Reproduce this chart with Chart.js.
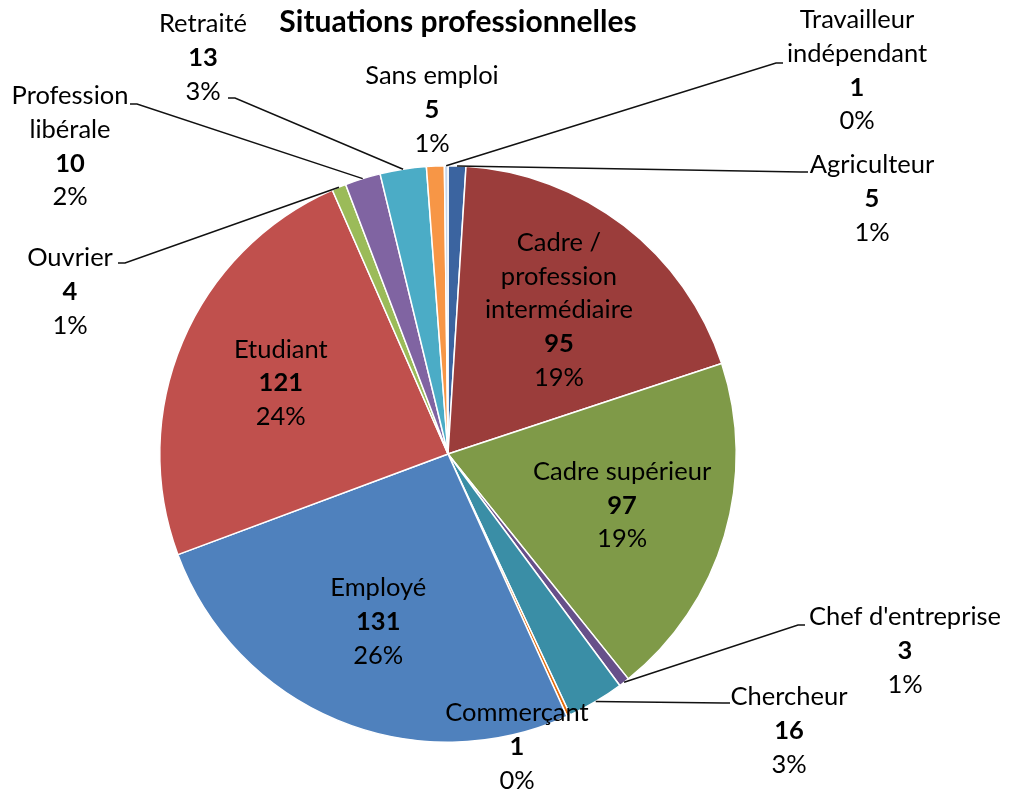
<!DOCTYPE html>
<html>
<head>
<meta charset="utf-8">
<script src="https://cdn.jsdelivr.net/npm/chart.js@4"></script>
<style>
  html, body { margin: 0; padding: 0; background: #fff; }
</style>
</head>
<body>
<canvas id="chart" width="1009" height="792"></canvas>
<script>
const chartTitle = "Situations professionnelles";
const categories = [
  "Agriculteur", "Cadre / profession intermédiaire", "Cadre supérieur", "Chef d'entreprise",
  "Chercheur", "Commerçant", "Employé", "Etudiant", "Ouvrier", "Profession libérale",
  "Retraité", "Sans emploi", "Travailleur indépendant"
];
const counts = [5, 95, 97, 3, 16, 1, 131, 121, 4, 10, 13, 5, 1];
const sliceColors = [
  "#3b64a0", "#9b3d3b", "#7f9a48", "#67508a", "#3a8ea6", "#e46c0a",
  "#4f81bd", "#c0504d", "#9bbb59", "#8064a2", "#4bacc6", "#f79646", "#c6d6ec"
];

// how each category name is broken into lines on the chart
const labelLines = [
  ["Agriculteur"], ["Cadre /", "profession", "intermédiaire"], ["Cadre supérieur"], ["Chef d'entreprise"],
  ["Chercheur"], ["Commerçant"], ["Employé"], ["Etudiant"], ["Ouvrier"], ["Profession", "libérale"],
  ["Retraité"], ["Sans emploi"], ["Travailleur", "indépendant"]
];

// label placement: inside the slice, or outside at a fixed spot with an optional leader line
const labelLayout = [
  { x: 872, y: 165, lead: [808, 172] },
  { inside: true },
  { inside: true },
  { x: 905, y: 617, lead: [805, 625] },
  { x: 789, y: 697, lead: [730, 703] },
  { x: 517, y: 713 },
  { inside: true },
  { inside: true },
  { x: 70, y: 258, lead: [118, 263] },
  { x: 70, y: 96, lead: [130, 104] },
  { x: 203, y: 24, lead: [228, 98] },
  { x: 432, y: 76 },
  { x: 857, y: 20, lead: [783, 63] }
];

const total = counts.reduce((a, b) => a + b, 0);
const FONT = "Lato, 'Open Sans', sans-serif";
const lineH = 33.7;

const labelPlugin = {
  id: "sliceLabels",
  afterDraw(chart) {
    const ctx = chart.ctx;
    const arcs = chart.getDatasetMeta(0).data;
    ctx.save();
    ctx.fillStyle = "#000";
    ctx.textAlign = "center";
    ctx.textBaseline = "middle";
    ctx.font = "bold 30px " + FONT;
    ctx.fillText(chartTitle, 458, 22);

    arcs.forEach((arc, i) => {
      const p = arc.getProps(["x", "y", "startAngle", "endAngle", "outerRadius"], true);
      const mid = (p.startAngle + p.endAngle) / 2;
      const lines = labelLines[i].concat([String(counts[i]), Math.round(counts[i] / total * 100) + "%"]);
      const lay = labelLayout[i];
      let cx, top;
      if (lay.inside) {
        cx = p.x + Math.cos(mid) * p.outerRadius * 0.63;
        const cy = p.y + Math.sin(mid) * p.outerRadius * 0.63;
        top = cy - (lines.length - 1) * lineH / 2;
      } else {
        cx = lay.x;
        top = lay.y;
        if (lay.lead) {
          const sx = p.x + Math.cos(mid) * p.outerRadius;
          const sy = p.y + Math.sin(mid) * p.outerRadius;
          const dir = lay.lead[0] > p.x ? -1 : 1;
          ctx.strokeStyle = "#111";
          ctx.lineWidth = 1.5;
          ctx.beginPath();
          ctx.moveTo(sx, sy);
          ctx.lineTo(lay.lead[0] + dir * 7, lay.lead[1]);
          ctx.lineTo(lay.lead[0], lay.lead[1]);
          ctx.stroke();
        }
      }
      lines.forEach((t, k) => {
        ctx.font = (k === lines.length - 2 ? "bold " : "") + "25.5px " + FONT;
        ctx.fillText(t, cx, top + k * lineH);
      });
    });
    ctx.restore();
  }
};

new Chart(document.getElementById("chart"), {
  type: "pie",
  data: {
    labels: categories,
    datasets: [{
      data: counts,
      backgroundColor: sliceColors,
      borderColor: "#ffffff",
      borderWidth: 1.5
    }]
  },
  options: {
    responsive: false,
    animation: false,
    layout: { padding: { left: 159, right: 272, top: 165, bottom: 49 } },
    plugins: {
      legend: { display: false },
      tooltip: { enabled: false },
      title: { display: false }
    }
  },
  plugins: [labelPlugin]
});
</script>
</body>
</html>
